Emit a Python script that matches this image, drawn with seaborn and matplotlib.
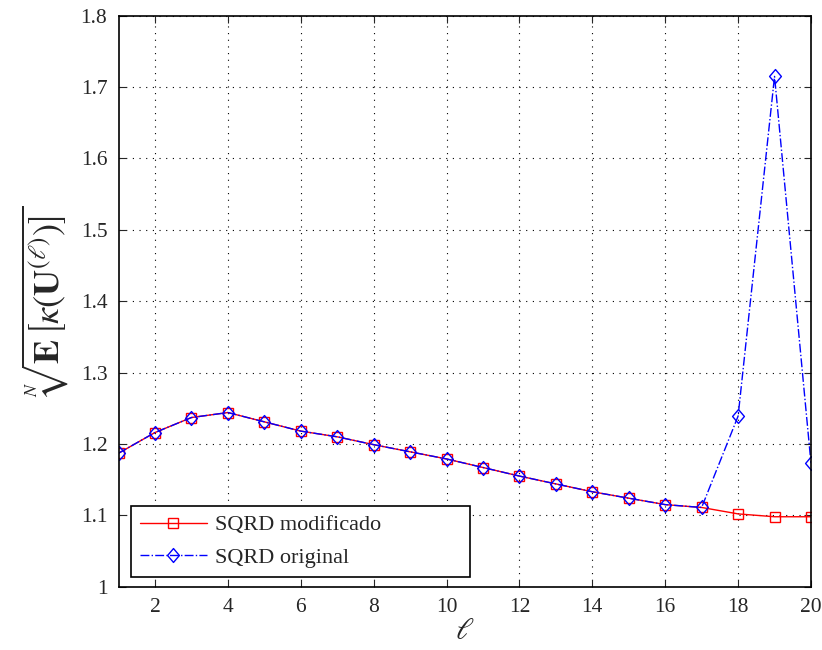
import numpy as np
import pandas as pd
import matplotlib
matplotlib.use("Agg")
import matplotlib.pyplot as plt
from matplotlib.path import Path
import seaborn as sns

# valores
ell = list(range(1, 21))
sqrd_modificado = [1.187, 1.216, 1.237, 1.244, 1.231, 1.218, 1.210, 1.199, 1.189, 1.179,
                   1.167, 1.155, 1.144, 1.133, 1.124, 1.115, 1.111, 1.102, 1.098, 1.098]
sqrd_original = [1.187, 1.216, 1.237, 1.244, 1.231, 1.218, 1.210, 1.199, 1.189, 1.179,
                 1.167, 1.155, 1.144, 1.133, 1.124, 1.115, 1.111, 1.239, 1.715, 1.173]
xticks = [2, 4, 6, 8, 10, 12, 14, 16, 18, 20]
yticks = [1.0, 1.1, 1.2, 1.3, 1.4, 1.5, 1.6, 1.7, 1.8]
ytick_labels = ["1", "1.1", "1.2", "1.3", "1.4", "1.5", "1.6", "1.7", "1.8"]

sns.set_style("ticks")
plt.rcParams['font.family'] = ['Liberation Serif', 'DejaVu Serif']
plt.rcParams['mathtext.fontset'] = 'stix'

# losango estilo MATLAB (um pouco mais alto que largo)
losango = Path([(0, 1), (0.85, 0), (0, -1), (-0.85, 0), (0, 1)],
               [Path.MOVETO, Path.LINETO, Path.LINETO, Path.LINETO, Path.CLOSEPOLY])

fig = plt.figure(figsize=(8.22, 6.5), dpi=100)
ax = fig.add_axes([0.1442, 0.0974, 0.8424, 0.8784])

df = pd.DataFrame({"ell": ell, "mod": sqrd_modificado, "orig": sqrd_original})

sns.lineplot(data=df, x="ell", y="mod", ax=ax, color="red", linewidth=1.0,
             marker="s", markersize=7, markerfacecolor="none", markeredgecolor="red",
             markeredgewidth=1.0, label="SQRD modificado")
sns.lineplot(data=df, x="ell", y="orig", ax=ax, color="blue", linewidth=1.0,
             linestyle="-.", marker=losango, markersize=10, markerfacecolor="none",
             markeredgecolor="blue", markeredgewidth=1.0, label="SQRD original")

ax.set_xlim(1, 20)
ax.set_ylim(1, 1.8)
ax.set_xticks(xticks)
ax.set_yticks(yticks)
ax.set_yticklabels(ytick_labels)
ax.tick_params(direction="in", labelsize=15.5, length=5, top=True, right=True, pad=8)
ax.grid(True, color="black", linestyle=(0, (1, 5)), linewidth=0.8)
for sp in ax.spines.values():
    sp.set_linewidth(1.2)
    sp.set_color("black")

ax.set_xlabel(r"$\ell$", fontsize=22, labelpad=0)
ax.set_ylabel(r"$\sqrt[N]{\mathbf{E}\,\left[\kappa\left(\mathbf{U}^{(\ell)}\right)\right]}$",
              fontsize=26, labelpad=8)

leg = ax.legend(loc="lower left", bbox_to_anchor=(0.018, 0.017, 0.49, 0.12), mode="expand",
                fontsize=16, handlelength=3.0, fancybox=False, framealpha=1, borderpad=0.4,
                labelspacing=0.55, borderaxespad=0, handletextpad=0.4)
leg.get_frame().set_edgecolor("black")
leg.get_frame().set_linewidth(1.2)

fig.savefig("out.png", dpi=100)
